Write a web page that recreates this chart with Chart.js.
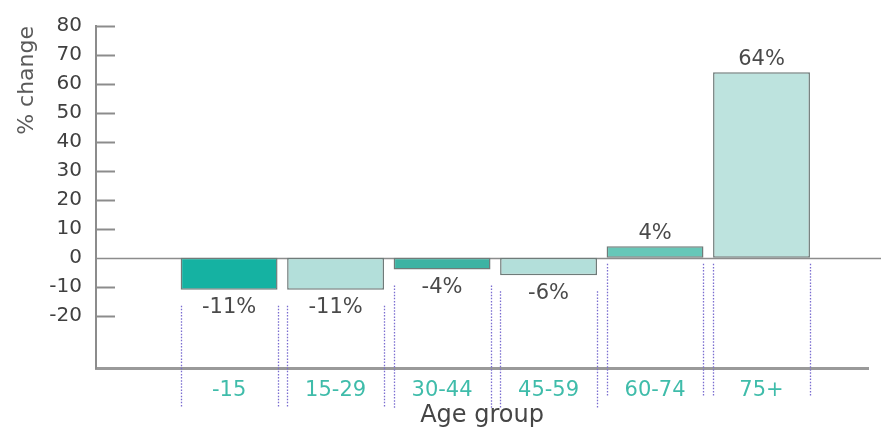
<!DOCTYPE html>
<html>
<head>
<meta charset="utf-8">
<script src="https://cdn.jsdelivr.net/npm/chart.js@4/dist/chart.umd.min.js"></script>
<style>
  html, body { margin: 0; padding: 0; background: #ffffff; }
  #wrap { width: 881px; height: 430px; position: relative; }
</style>
</head>
<body>
<div id="wrap"><canvas id="chart"></canvas></div>
<script>
// Population change by age group
const ageGroups = ['-15', '15-29', '30-44', '45-59', '60-74', '75+'];
const pctChange = [-11, -11, -4, -6, 4, 64];
const barColors = ['#15b2a2', '#b3dfda', '#3db3a3', '#b3dfda', '#67c7b8', '#bde3de'];
const yTickValues = [80, 70, 60, 50, 40, 30, 20, 10, 0, -10, -20];

const FONT = "'DejaVu Sans', 'Noto Sans', sans-serif";
const AXIS_GREY = '#8c8c8c';

// Short tick marks drawn inward from the y axis, plus the zero line
const axisDecor = {
  id: 'axisDecor',
  beforeDatasetsDraw(chart) {
    const { ctx, chartArea, scales: { y } } = chart;
    ctx.save();
    ctx.strokeStyle = AXIS_GREY;
    ctx.lineWidth = 2;
    yTickValues.forEach(v => {
      if (v === 0) return;
      const py = Math.round(y.getPixelForValue(v)) + 0.5;
      ctx.beginPath();
      ctx.moveTo(chartArea.left, py);
      ctx.lineTo(chartArea.left + 19, py);
      ctx.stroke();
    });
    const y0 = Math.round(y.getPixelForValue(0)) + 0.5;
    ctx.lineWidth = 1.5;
    ctx.beginPath();
    ctx.moveTo(chartArea.left, y0);
    ctx.lineTo(chart.width, y0);
    ctx.stroke();
    ctx.restore();
  }
};

// Dotted guides at the edges of each bar and the value labels
const barAnnotations = {
  id: 'barAnnotations',
  afterDatasetsDraw(chart) {
    const { ctx, chartArea, scales: { y } } = chart;
    const meta = chart.getDatasetMeta(0);
    const y0 = y.getPixelForValue(0);
    const axisY = chartArea.bottom;
    ctx.save();
    meta.data.forEach((bar, i) => {
      const v = pctChange[i];
      const half = bar.width / 2;
      const top = v < 0 ? bar.y + 16 : y0 + 6;
      const bottom = v < 0 ? axisY + 40 : axisY + 29;
      ctx.strokeStyle = '#7a6cd0';
      ctx.lineWidth = 1.3;
      ctx.setLineDash([1.5, 1.6]);
      [bar.x - half, bar.x + half].forEach(px => {
        const sx = Math.round(px) + 0.5;
        ctx.beginPath();
        ctx.moveTo(sx, top);
        ctx.lineTo(sx, bottom);
        ctx.stroke();
      });
      ctx.setLineDash([]);
      ctx.fillStyle = '#4a4a4a';
      ctx.font = '21px ' + FONT;
      ctx.textAlign = 'center';
      ctx.textBaseline = 'middle';
      const ly = v < 0 ? bar.y + 18 : bar.y - 13;
      ctx.fillText(v + '%', bar.x, ly);
    });
    ctx.restore();
  }
};

new Chart(document.getElementById('chart'), {
  type: 'bar',
  data: {
    datasets: [{
      data: pctChange.map((v, i) => ({ x: i, y: v })),
      backgroundColor: barColors,
      borderColor: '#6f7b79',
      borderWidth: 1.5,
      borderSkipped: false,
      categoryPercentage: 1,
      barPercentage: 0.91
    }]
  },
  options: {
    responsive: true,
    maintainAspectRatio: false,
    animation: false,
    events: [],
    layout: { padding: { left: 0, right: 13, top: 26, bottom: 0 } },
    plugins: { legend: { display: false }, tooltip: { enabled: false } },
    scales: {
      x: {
        type: 'linear',
        offset: false,
        min: -1.25,
        max: 6,
        grid: { display: false, drawTicks: false },
        border: { display: true, color: '#9a9a9a', width: 3 },
        afterBuildTicks(scale) {
          scale.ticks = ageGroups.map((_, i) => ({ value: i }));
        },
        afterFit(scale) { scale.height = 62; },
        ticks: {
          autoSkip: false,
          maxRotation: 0,
          padding: 10,
          color: '#3fbcaa',
          font: { family: FONT, size: 21 },
          callback: v => ageGroups[v] ?? ''
        },
        title: {
          display: true,
          text: 'Age group',
          color: '#454545',
          font: { family: FONT, size: 24 },
          padding: { top: 0, bottom: 0 }
        }
      },
      y: {
        min: -38,
        max: 80,
        grid: { display: false, drawTicks: false },
        border: { display: true, color: AXIS_GREY, width: 2 },
        afterBuildTicks(scale) {
          scale.ticks = yTickValues.map(v => ({ value: v }));
        },
        afterFit(scale) { scale.width = 96; },
        ticks: {
          padding: 14,
          color: '#404040',
          font: { family: FONT, size: 20 }
        },
        title: {
          display: true,
          text: '% change',
          align: 'end',
          color: '#5a5a5a',
          font: { family: FONT, size: 22 },
          padding: { top: 14, bottom: 0 }
        }
      }
    }
  },
  plugins: [axisDecor, barAnnotations]
});
</script>
</body>
</html>
